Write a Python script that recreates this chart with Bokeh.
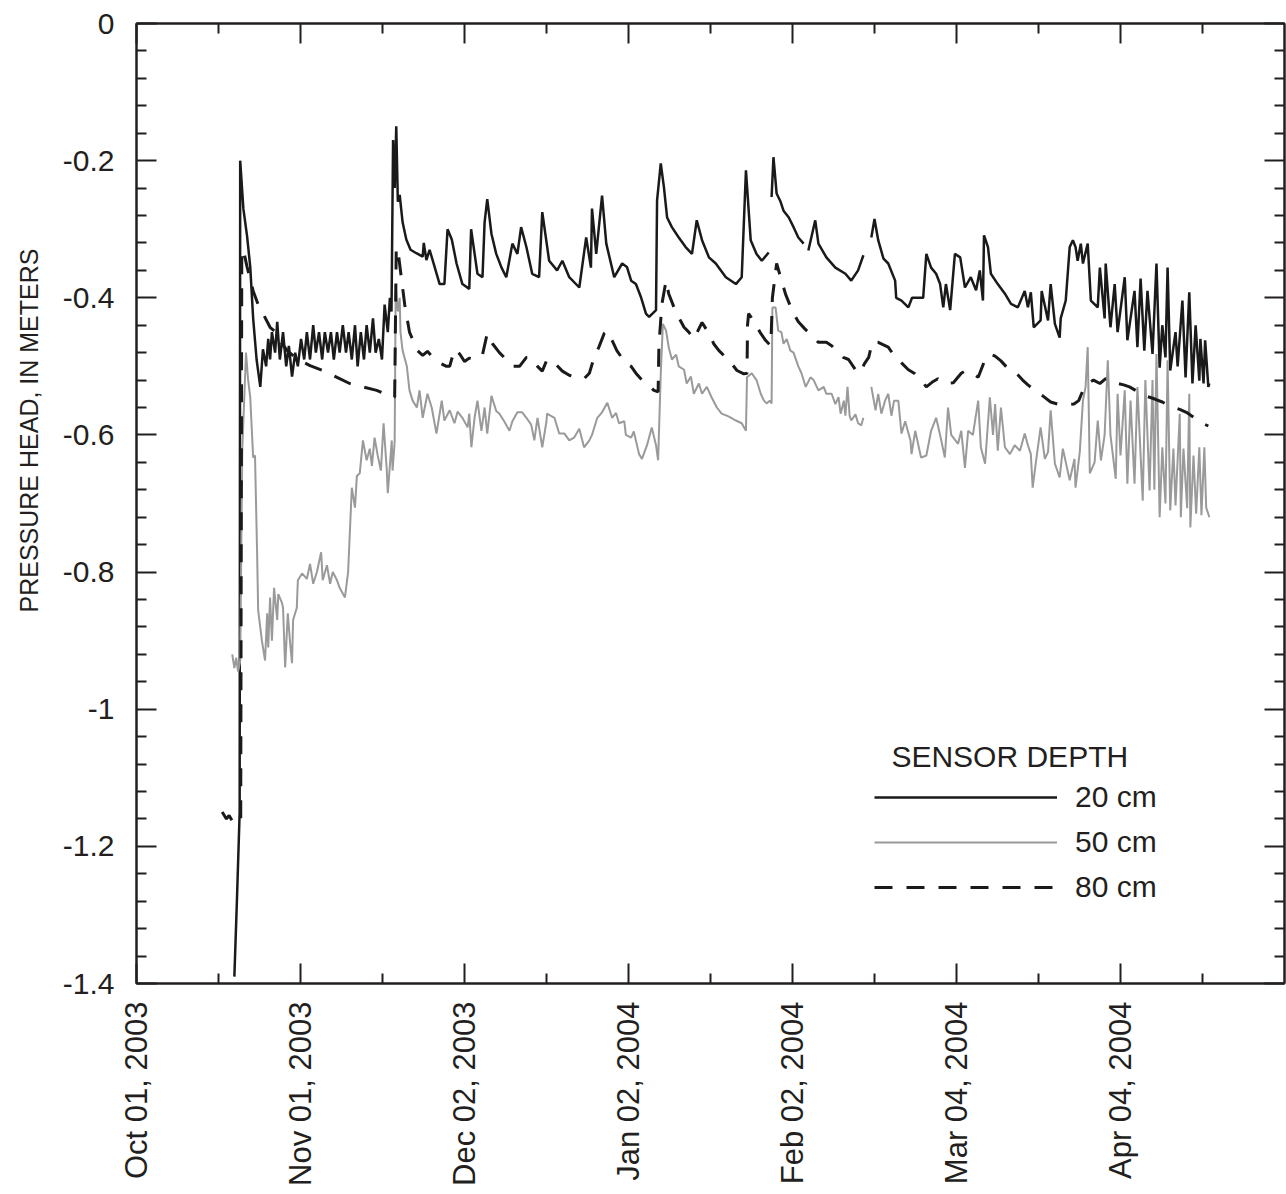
import math
from bokeh.plotting import figure
from bokeh.models import (Range1d, FixedTicker, LinearAxis, Legend, LegendItem, Label, Title)
from bokeh.embed import file_html
from bokeh.resources import INLINE

nan = float("nan")

# x values: days since Oct 01, 2003 ; y values: pressure head (m)
tick_days = [0, 31, 62, 93, 124, 155, 186]
tick_labels = ["Oct 01, 2003", "Nov 01, 2003", "Dec 02, 2003", "Jan 02, 2004",
               "Feb 02, 2004", "Mar 04, 2004", "Apr 04, 2004"]
minor_days = [15.5, 46.5, 77.5, 108.5, 139.5, 170.5, 201.5]
y_ticks = [0, -0.2, -0.4, -0.6, -0.8, -1.0, -1.2, -1.4]
y_labels = ["0", "-0.2", "-0.4", "-0.6", "-0.8", "-1", "-1.2", "-1.4"]
y_minor = [round(-0.04 * i, 2) for i in range(1, 36) if i % 5 != 0]

series_names = ["20 cm", "50 cm", "80 cm"]

d20 = [18.5, 19.0, 19.5, 19.6, 20.2, 20.9, 21.5, 22.05, 22.7, 23.4, 23.9, 24.5, 24.9, 25.25, 25.6,
       26.2, 26.6, 27.1, 27.7, 28.3, 28.8, 29.4, 30.0, 30.5, 31.1, 31.7, 32.2, 32.8, 33.4, 33.9,
       34.5, 35.1, 35.6, 36.2, 36.75, 37.3, 37.9, 38.4, 39.0, 39.6, 40.1, 40.7, 41.3, 41.8, 42.4,
       43.0, 43.5, 44.1, 44.7, 45.2, 45.8, 46.4, 46.9, 47.5, 47.9, 48.2, 48.5, 48.8, 49.1, 49.4,
       49.75, 50.3, 51.0, 51.8, 52.9, 54.1, 54.3, 54.8, 55.4, 56.35, 57.3, 58.2, 58.8, 59.6, 60.5,
       61.6, 62.9, 63.25, 64.45, 65.4, 65.8, 66.3, 67.1, 68.0, 69.0, 69.9, 71.05, 72.0, 72.7, 73.7,
       74.8, 76.1, 76.7, 78.0, 79.5, 80.5, 81.8, 83.7, 85.0, 85.9, 86.1, 86.9, 88.0, 88.8, 90.3,
       91.8, 92.7, 93.5, 94.4, 95.4, 96.3, 96.9, 98.2, 98.4, 99.1, 99.7, 100.3, 101.2, 102.5, 103.8,
       105.0, 105.9, 106.9, 108.2, 109.5, 111.4, 113.3, 114.4, 115.2, 116.1, 117.2, 118.2, 119.5, 119.8,
       120.05, 120.4, 121.0, 121.75, 122.3, 123.3, 124.2, 125.1, 126.1, 126.5,
       127.0, 128.3, 128.9, 130.4, 132.1, 134.0, 135.1, 136.4, 137.4, 138.1,
       138.9, 139.5, 140.2, 141.2, 142.1, 143.4, 143.6, 144.6, 145.9, 146.6, 147.8, 148.7, 149.3,
       150.2, 151.15, 151.9, 152.5, 153.0, 153.8, 154.7, 155.7, 156.6, 157.7, 158.7, 159.4, 160.0,
       160.2, 160.95, 161.5, 162.8, 164.15, 165.3, 166.6, 167.9, 168.5, 169.05, 169.6, 170.9, 171.1,
       172.3, 172.8, 173.6, 174.5, 174.7, 175.65, 176.4, 177.0, 177.5, 177.9, 178.5, 178.9, 179.8,
       180.4, 181.7, 182.1, 183.0, 183.2, 184.1, 184.9, 185.45, 186.8, 187.3, 188.65, 189.2, 189.8,
       190.5, 191.1, 192.05, 192.8, 193.4, 193.9, 194.5, 194.9, 195.4, 196.4, 196.8, 197.7, 198.3,
       199.0, 199.6, 200.2, 200.9, 201.1, 201.7, 202.0, 202.6, 202.8]
v20 = [-1.39, -1.275, -1.15, -0.20, -0.27, -0.31, -0.355, -0.43, -0.49, -0.53, -0.475, -0.50, -0.46, -0.49, -0.45,
       -0.48, -0.435, -0.49, -0.45, -0.50, -0.47, -0.515, -0.48, -0.50, -0.46, -0.49, -0.45, -0.49, -0.44, -0.48,
       -0.45, -0.49, -0.45, -0.48, -0.45, -0.49, -0.45, -0.48, -0.44, -0.48, -0.45, -0.49, -0.44, -0.50, -0.45,
       -0.49, -0.44, -0.48, -0.43, -0.48, -0.46, -0.49, -0.41, -0.45, -0.40, -0.42, -0.17, -0.24, -0.15, -0.26,
       -0.25, -0.29, -0.315, -0.33, -0.335, -0.34, -0.32, -0.345, -0.33, -0.355, -0.38, -0.38, -0.30, -0.315, -0.35,
       -0.38, -0.387, -0.30, -0.365, -0.37, -0.29, -0.256, -0.307, -0.336, -0.356, -0.37, -0.321, -0.336, -0.297, -0.326,
       -0.365, -0.37, -0.275, -0.346, -0.36, -0.346, -0.37, -0.385, -0.312, -0.356, -0.27, -0.336, -0.251, -0.321, -0.37,
       -0.35, -0.355, -0.375, -0.38, -0.40, -0.423, -0.428, -0.418, -0.258, -0.204, -0.239, -0.283, -0.297, -0.312, -0.326,
       -0.336, -0.287, -0.316, -0.341, -0.35, -0.37, -0.38, -0.37, -0.214, -0.316, -0.336, -0.346, -0.334, nan,
       -0.253, -0.195, -0.248, -0.26, -0.273, -0.283, -0.297, -0.312, -0.321, nan,
       -0.331, -0.287, -0.321, -0.341, -0.356, -0.365, -0.375, -0.36, -0.338, nan,
       -0.312, -0.285, -0.316, -0.343, -0.35, -0.375, -0.40, -0.404, -0.414, -0.40, -0.40, -0.40, -0.336,
       -0.356, -0.365, -0.38, -0.414, -0.38, -0.418, -0.336, -0.341, -0.385, -0.37, -0.389, -0.36, -0.404,
       -0.309, -0.326, -0.365, -0.38, -0.394, -0.409, -0.414, -0.39, -0.414, -0.392, -0.443, -0.433, -0.39,
       -0.433, -0.38, -0.438, -0.458, -0.43, -0.404, -0.326, -0.316, -0.326, -0.346, -0.321, -0.35, -0.321,
       -0.404, -0.414, -0.356, -0.43, -0.35, -0.443, -0.38, -0.45, -0.37, -0.462, -0.39, -0.472, -0.372,
       -0.477, -0.39, -0.482, -0.35, -0.502, -0.44, -0.487, -0.356, -0.506, -0.45, -0.50, -0.404, -0.516,
       -0.392, -0.525, -0.44, -0.521, -0.46, -0.525, -0.462, -0.53, -0.525]

d50 = [18.1, 18.5, 18.85, 19.2, 19.6, 20.0, 20.7, 21.1, 21.5, 22.05, 22.4, 22.8, 23.0, 23.7, 24.3,
       24.7, 24.9, 25.25, 25.6, 26.0, 26.6, 26.8, 27.5, 27.7, 28.1, 28.6, 29.0, 29.4, 29.6, 30.3,
       30.5, 31.3, 32.2, 32.8, 33.4, 34.1, 34.9, 35.2, 36.0, 36.6, 37.1, 37.9, 38.4, 39.4, 40.0,
       40.7, 41.3, 41.65, 42.2, 42.8, 43.5, 44.1, 44.5, 45.0, 45.6, 46.2, 46.7, 47.3, 47.5, 48.25,
       48.4, 48.8, 49.0, 49.4, 49.75, 49.9, 50.3, 51.1, 51.6, 52.2, 53.0, 53.5, 54.1, 55.0, 55.8,
       56.7, 57.7, 58.2, 59.2, 60.1, 60.7, 61.6, 62.6, 62.9, 63.3, 63.9, 64.45, 65.2, 65.8, 66.3,
       67.1, 68.0, 68.6, 69.5, 70.5, 71.05, 72.0, 72.9, 73.7, 74.6, 75.2, 75.8, 76.7, 77.5, 77.6,
       79.0, 79.9, 80.9, 81.8, 82.7, 83.7, 84.6, 85.6, 86.1, 87.1, 88.0, 89.0, 89.9, 90.65, 91.2,
       92.2, 92.5, 93.5, 94.0, 95.0, 95.55, 96.5, 97.4, 98.2, 98.6, 99.1, 99.5, 100.1, 100.6, 101.2,
       102.0, 102.5, 103.5, 104.0, 104.8, 105.35, 106.3, 106.9, 107.8, 108.7, 109.7, 110.6, 111.9, 113.3,
       114.4, 115.2, 115.4, 116.3, 117.2, 118.0, 118.6, 119.1, 119.7, 120.05, 120.2, 120.8, 121.3, 121.9,
       122.3, 122.9, 123.6, 124.2, 125.1, 125.7, 126.5, 127.4, 128.0, 128.9, 129.9, 130.4, 131.4, 132.1,
       132.7, 133.1, 133.7, 134.0, 134.4, 134.8, 135.1, 135.9, 136.4, 137.0, 137.4, 138.2,
       138.9, 139.7, 140.2, 140.8, 141.5, 142.1, 142.7, 143.2, 144.0, 144.6, 145.3, 146.3, 146.5,
       147.2, 148.3, 149.3, 150.2, 151.15, 151.9, 152.8, 153.4, 154.0, 155.3, 155.9, 156.6, 157.2,
       158.1, 159.1, 159.6, 160.4, 161.3, 161.9, 162.3, 162.8, 163.4, 164.15, 165.1, 166.0, 167.0,
       167.9, 168.5, 169.05, 169.4, 170.0, 170.9, 171.7, 172.3, 172.8, 173.6, 174.5, 175.1, 176.4,
       177.3, 177.5, 178.3, 178.9, 179.4, 179.8, 180.2, 181.1, 181.7, 182.3, 183.0, 183.6, 184.1,
       185.1, 185.45, 186.0, 186.8, 187.3, 187.9, 188.65, 189.2, 190.2, 190.7, 191.5, 192.05, 192.4,
       192.8, 193.4, 193.9, 194.5, 194.9, 195.4, 196.0, 196.4, 197.2, 197.4, 197.9, 198.6, 199.0,
       199.2, 199.8, 200.3, 200.9, 201.3, 201.85, 202.2, 202.8]
v50 = [-0.92, -0.94, -0.925, -0.945, -0.93, -0.62, -0.48, -0.52, -0.545, -0.633, -0.63, -0.773, -0.856, -0.90, -0.929,
       -0.86, -0.91, -0.837, -0.90, -0.823, -0.87, -0.832, -0.845, -0.852, -0.939, -0.86, -0.90, -0.933, -0.87, -0.852,
       -0.812, -0.802, -0.81, -0.788, -0.817, -0.80, -0.771, -0.812, -0.79, -0.817, -0.80, -0.812, -0.823, -0.837, -0.80,
       -0.677, -0.706, -0.66, -0.656, -0.608, -0.637, -0.62, -0.645, -0.604, -0.63, -0.652, -0.583, -0.65, -0.685, -0.608,
       -0.652, -0.61, -0.38, -0.42, -0.40, -0.45, -0.477, -0.50, -0.535, -0.55, -0.56, -0.535, -0.575, -0.54, -0.56,
       -0.598, -0.55, -0.579, -0.564, -0.583, -0.566, -0.575, -0.589, -0.569, -0.618, -0.575, -0.55, -0.594, -0.56, -0.598,
       -0.543, -0.565, -0.569, -0.58, -0.594, -0.58, -0.567, -0.567, -0.575, -0.585, -0.608, -0.575, -0.618, -0.58, -0.569,
       -0.575, -0.598, -0.598, -0.608, -0.604, -0.591, -0.618, -0.608, -0.60, -0.575, -0.567, -0.553, -0.575, -0.568, -0.583,
       -0.58, -0.60, -0.604, -0.595, -0.628, -0.635, -0.615, -0.589, -0.615, -0.637, -0.51, -0.438, -0.448, -0.472, -0.49,
       -0.483, -0.50, -0.505, -0.525, -0.515, -0.54, -0.525, -0.54, -0.53, -0.545, -0.56, -0.569, -0.573, -0.579,
       -0.583, -0.594, -0.516, -0.51, -0.52, -0.54, -0.55, -0.554, -0.55, -0.554, -0.414, -0.414, -0.448, -0.45,
       -0.467, -0.46, -0.477, -0.48, -0.50, -0.51, -0.53, -0.516, -0.52, -0.535, -0.53, -0.54, -0.54, -0.555,
       -0.545, -0.569, -0.55, -0.572, -0.53, -0.572, -0.579, -0.57, -0.583, -0.586, -0.575, nan,
       -0.53, -0.564, -0.54, -0.569, -0.55, -0.54, -0.572, -0.55, -0.55, -0.598, -0.58, -0.608, -0.628,
       -0.594, -0.633, -0.63, -0.594, -0.575, -0.60, -0.633, -0.56, -0.60, -0.613, -0.594, -0.648, -0.594,
       -0.60, -0.55, -0.618, -0.642, -0.545, -0.60, -0.555, -0.623, -0.56, -0.618, -0.628, -0.615, -0.623,
       -0.598, -0.615, -0.628, -0.677, -0.64, -0.589, -0.635, -0.625, -0.564, -0.642, -0.662, -0.62, -0.666,
       -0.635, -0.677, -0.625, -0.55, -0.53, -0.472, -0.656, -0.64, -0.579, -0.637, -0.60, -0.491, -0.60,
       -0.664, -0.54, -0.63, -0.535, -0.671, -0.55, -0.671, -0.53, -0.696, -0.52, -0.681, -0.52, -0.68,
       -0.482, -0.72, -0.618, -0.70, -0.491, -0.71, -0.62, -0.703, -0.569, -0.72, -0.62, -0.707, -0.54,
       -0.735, -0.63, -0.715, -0.618, -0.717, -0.618, -0.706, -0.72]

d80 = [16.2, 17.0, 17.5, 18.1, 18.85, 19.4, 19.7, 19.9, 20.2, 20.9, 22.05, 23.0, 23.9, 25.25, 26.6,
       27.5, 28.5, 30.3, 32.8, 35.2, 37.9, 40.3, 42.8, 45.4, 48.4, 48.8, 49.1, 49.4, 50.7, 51.6,
       53.1, 54.1, 55.0, 56.0, 57.3, 58.6, 59.2, 60.1, 61.1, 62.0, 62.9, 63.9, 65.4, 66.3, 67.3,
       68.6, 69.9, 71.05, 72.4, 73.7, 74.6, 75.8, 76.7, 77.6, 79.0, 80.5, 81.8, 83.1, 84.6, 85.6,
       86.5, 87.4, 88.4, 89.0, 89.9, 90.8, 92.5, 93.5, 94.4, 95.55, 96.5, 97.8, 98.6, 98.75, 99.3,
       100.1, 100.6, 101.6, 102.1, 103.5, 104.4, 105.35, 106.9, 108.2, 109.1, 110.1, 111.4, 112.5, 113.5,
       114.8, 115.4, 115.5, 115.7, 116.6, 118.0, 118.9, 119.9, 120.2, 121.0, 121.75, 122.7, 124.0, 125.1,
       126.3, 127.6, 128.9, 130.4, 131.4, 132.3, 133.6, 134.6, 135.9, 136.8, 137.6, 138.4, 139.1, 140.2,
       141.0, 142.1, 143.0, 144.6, 145.9, 147.0, 148.1, 149.3, 150.6, 151.5, 152.7, 154.4, 155.9, 156.8,
       158.1, 159.1, 160.4, 161.3, 162.3, 163.4, 164.7, 166.3, 167.5, 168.5, 169.8, 171.3, 172.8, 174.1,
       175.65, 177.2, 178.1, 178.9, 179.8, 180.9, 182.1, 183.2, 184.3, 185.45, 186.6, 187.7, 188.85, 190.2,
       191.5, 192.6, 193.9, 195.1, 196.2, 197.3, 198.45, 199.6, 200.5, 201.5, 202.6]
v80 = [-1.15, -1.16, -1.155, -1.163, -1.158, -1.155, -1.16, -0.33, -0.33, -0.355, -0.39, -0.41, -0.423, -0.443, -0.452,
       -0.467, -0.477, -0.489, -0.499, -0.506, -0.516, -0.525, -0.53, -0.535, -0.545, -0.545, -0.327, -0.33, -0.41, -0.45,
       -0.477, -0.484, -0.478, -0.487, -0.495, -0.50, -0.50, -0.475, -0.482, -0.493, -0.488, -0.49, -0.483, -0.452, -0.467,
       -0.48, -0.49, -0.50, -0.50, -0.487, -0.487, -0.50, -0.507, -0.49, -0.495, -0.507, -0.513, -0.516, -0.518, -0.51,
       -0.487, -0.472, -0.452, -0.448, -0.462, -0.477, -0.496, -0.50, -0.51, -0.52, -0.525, -0.535, -0.537, -0.47, -0.41,
       -0.375, -0.394, -0.414, -0.423, -0.443, -0.45, -0.46, -0.436, -0.452, -0.467, -0.477, -0.487, -0.496, -0.506,
       -0.511, -0.51, -0.44, -0.423, -0.433, -0.452, -0.462, -0.47, -0.40, -0.35, -0.37, -0.395, -0.42, -0.435,
       -0.445, -0.455, -0.465, -0.465, -0.47, -0.477, -0.487, -0.49, -0.505, -0.51, -0.496, -0.487, -0.464, -0.465,
       -0.468, -0.472, -0.482, -0.495, -0.505, -0.51, -0.518, -0.53, -0.522, -0.518, -0.525, -0.524, -0.51, -0.506,
       -0.51, -0.516, -0.49, -0.482, -0.485, -0.492, -0.503, -0.51, -0.52, -0.527, -0.535, -0.543, -0.552, -0.555,
       -0.556, -0.555, -0.55, -0.535, -0.525, -0.52, -0.525, -0.518, -0.52, -0.525, -0.527, -0.53, -0.535, -0.542,
       -0.545, -0.548, -0.552, -0.557, -0.56, -0.563, -0.567, -0.573, -0.578, -0.583, -0.587]

FONT = "Liberation Sans"
TXT = "#231f20"

p = figure(width=1286, height=1194, output_backend="svg", toolbar_location=None,
           x_range=Range1d(0, 217), y_range=Range1d(-1.4, 0),
           min_border_left=136, min_border_right=2, min_border_top=23, min_border_bottom=211,
           x_axis_type=None, y_axis_type=None)
p.xgrid.visible = False
p.ygrid.visible = False
p.outline_line_color = TXT
p.outline_line_width = 2
p.background_fill_color = "white"
p.border_fill_color = "white"

xt = FixedTicker(ticks=tick_days, minor_ticks=minor_days)
yt = FixedTicker(ticks=y_ticks, minor_ticks=y_minor)


def style(ax, labels=True):
    ax.axis_line_color = TXT
    ax.axis_line_width = 2
    ax.major_tick_line_color = TXT
    ax.major_tick_line_width = 2
    ax.minor_tick_line_color = TXT
    ax.minor_tick_line_width = 2
    ax.major_tick_in = 20
    ax.major_tick_out = 0
    ax.minor_tick_in = 10
    ax.minor_tick_out = 0
    if not labels:
        ax.major_label_text_font_size = "0px"
        ax.major_label_standoff = 0
        ax.major_label_text_alpha = 0


xb = LinearAxis(ticker=xt)
style(xb)
xb.major_label_overrides = {d: s for d, s in zip(tick_days, tick_labels)}
xb.major_label_orientation = math.pi / 2
xb.major_label_text_font = FONT
xb.major_label_text_font_size = "31px"
xb.major_label_text_color = TXT
xb.major_label_standoff = 18
p.add_layout(xb, "below")

yl = LinearAxis(ticker=yt)
style(yl)
yl.major_label_overrides = {v: s for v, s in zip(y_ticks, y_labels)}
yl.major_label_text_font = FONT
yl.major_label_text_font_size = "30px"
yl.major_label_text_color = TXT
yl.major_label_standoff = 22
p.add_layout(yl, "left")

ytitle = Title(text="PRESSURE HEAD, IN METERS", align="left", offset=371,
               text_font=FONT, text_font_size="25px", text_font_style="normal",
               text_color=TXT, standoff=29, vertical_align="top")
p.add_layout(ytitle, "left")

xa = LinearAxis(ticker=xt)
style(xa, labels=False)
p.add_layout(xa, "above")
yr = LinearAxis(ticker=yt)
style(yr, labels=False)
p.add_layout(yr, "right")

r20 = p.line(d20, v20, line_color="#1a1a1a", line_width=2.5)
r50 = p.line(d50, v50, line_color="#9a9a9a", line_width=2)
r80 = p.line(d80, v80, line_color="#1a1a1a", line_width=3, line_dash="18 14")

legend = Legend(items=[LegendItem(label=series_names[0], renderers=[r20]),
                       LegendItem(label=series_names[1], renderers=[r50]),
                       LegendItem(label=series_names[2], renderers=[r80])],
                location=(738, 79), orientation="vertical",
                glyph_width=183, glyph_height=30, label_height=30, label_standoff=18,
                spacing=11, padding=0, margin=0,
                label_text_font=FONT, label_text_font_size="30px", label_text_color=TXT,
                border_line_color=None, background_fill_alpha=0)
p.add_layout(legend, "center")

title = Label(x=142.7, y=-1.069, text="SENSOR DEPTH", text_font=FONT, text_font_size="30px",
              text_color=TXT, text_baseline="middle", text_align="left")
p.add_layout(title)

open("out.html", "w").write(file_html(p, INLINE))
